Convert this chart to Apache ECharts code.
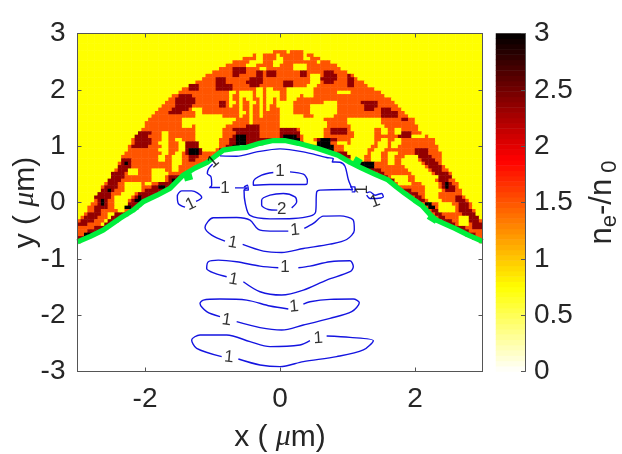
<!DOCTYPE html>
<html>
<head>
<meta charset="utf-8">
<style>html,body{margin:0;background:#fff}#main-chart{width:622px;height:454px}</style>
<script src="https://cdn.jsdelivr.net/npm/echarts@6/dist/echarts.min.js"></script>
</head>
<body>
<div id="main-chart"></div>
<script>
// density map: 120 columns (dx = 0.05 um), rows from y = 3 downwards (dy = 0.06 um)
const colCount = 120;
const rowCount = 100;
const firstRow = 5; // rows above this are all background
const cellValues = { y: 0.75, o: 1.5, d: 2.35, k: 3 };

// plasma band edges per row, in columns
const bandLeft = [58,52,49,46,44,42,40,38,37,35,33,31,30,28,27,26,25,24,23,22,21,20,20,19,18,17,16,16,15,15,14,13,13,12,12,11,10,10,9,8,7,7,6,5,5,4,3,3,2,1,0,0,0,0,0,0,0];
const bandRight = [66,69,71,74,76,77,79,81,82,84,85,87,89,90,92,93,94,95,96,97,99,99,100,100,101,103,105,105,106,106,107,107,107,107,108,109,110,110,111,112,112,113,113,114,115,116,116,117,117,118,119,120,120,120,120,120,120];
// empty region under the surface, from row 32 on
const holeFirstRow = 32;
const holeLeft = [55,48,43,42,40,39,37,35,33,32,31,30,29,28,26,24,22,20,19,18,16,15,13,12,10,9,7,5,3,1];
const holeRight = [65,69,73,76,78,80,82,84,86,88,90,92,94,95,96,98,99,100,102,103,104,105,106,108,110,112,114,115,117,119];
// patches inside the band, one string per row: level + column range
const fieldPatches = [
  'y62-62',
  'y53-54 y59-59 y67-67',
  'y53-54 y59-60 y67-68',
  'y51-54 y58-60 y71-71',
  'y50-52 y58-59 y64-67',
  'd46-47 d48-49 y54-55 y64-67',
  'd46-47 d48-49 d53-54 d56-58 d66-67 d73-75',
  'd46-47 d53-54 d56-58 d66-67 y69-71 d73-76 d80-80',
  'd41-43 d51-54 y69-71 d72-76 d80-81',
  'd41-43 d50-54 d61-63 y69-71 d73-75 d80-81',
  'd33-35 d41-44 d45-45 d51-53 d61-63 y68-70 d80-81',
  'd33-35 d41-43 d44-45 y53-54 y56-57 y62-65 y66-69',
  'y45-46 y48-49 y50-51 y53-54 y56-57 y58-59 y62-66 y67-69 y77-80',
  'd30-33 y45-45 y48-49 y50-51 y53-54 y56-57 y58-59 y62-65 y67-69',
  'd29-34 y45-45 y48-48 y50-51 y54-54 y56-57 y59-59 y62-64',
  'd29-34 d42-43 y45-46 y48-48 y51-52 y54-54 y56-57 y59-59 y60-63 y73-76 d84-88',
  'd29-33 d42-43 y45-45 y48-48 y51-51 y54-54 y56-56 y59-63 y69-76 d85-88',
  'd28-32 y34-36 y48-48 y51-51 y54-54 y56-56 y60-63 y69-76 d85-87 d90-92',
  'd27-30 y35-36 y48-49 y51-51 y54-54 y60-63 y69-76 d90-94',
  'y35-42 y48-48 y51-51 y54-54 y60-66 y70-75 d90-94',
  'y31-34 y35-46 y51-51 y60-72 y80-89 d96-97',
  'y31-34 y35-45 y51-51 y60-65 y66-73 y80-89',
  'y31-33 y35-43 d50-53 y60-65 y66-73 y81-90',
  'y35-42 d46-53 d60-64 y66-72 d75-79 y81-87 y90-91 y94-95',
  'd17-21 y25-26 y35-42 d47-53 d60-65 y66-72 d75-79 y82-87 y90-91 y94-95 d96-98',
  'd17-20 y25-26 y35-42 d46-53 k47-49 d60-65 k61-64 y67-72 y82-87 d95-98 y99-102',
  'd17-21 y25-26 y29-30 y35-41 d45-52 k47-49 d53-59 d60-65 k61-65 y67-69 d71-76 k72-74 y81-87 y90-91 y94-95',
  'd17-21 y24-26 y30-31 d32-35 y36-41 d45-50 k47-49 d50-55 d66-67 y67-70 k71-74 y77-79 y81-87 y89-91 y93-95',
  'd16-20 y25-26 y30-31 d32-35 y36-41 d44-48 k46-47 k71-75 y79-86 y89-91 y93-94',
  'y24-26 y30-31 d32-36 k33-35 y37-40 d42-43 k73-75 y79-85 y88-90 d100-103',
  'y25-26 y29-30 d32-36 k33-35 d77-79 y80-85 y87-89 y92-94 d100-103',
  'y24-25 y28-30 d33-35 d78-80 y81-84 y87-89 y92-93 y97-100 d101-104',
  'd12-15 y24-25 y28-30 d33-34 y81-84 y87-89 y92-93 y96-100 d102-105',
  'd13-15 k14-14 y28-30 k83-87 y92-93 y96-101 d103-106',
  'd12-15 y28-29 k84-87 y97-102 d104-107',
  'd12-15 y15-17 y22-25 y28-29 d86-89 y98-103 d105-107',
  'd10-13 y15-17 y22-26 d89-90 y99-104 d106-109',
  'd10-13 y22-25 d27-30 d91-91 y93-97 y100-106 d107-110',
  'd9-12 y22-25 d27-29 k28-28 d92-94 y94-97 y100-105 d107-109',
  'd9-11 y14-18 y20-21 d24-28 y95-98 y102-106 d108-110 k109-109',
  'd8-11 y14-18 d22-27 k24-25 y103-106 d108-111 k109-109',
  'd7-10 k9-9 y14-18 d20-25 d96-98 y103-107 d109-111',
  'd6-9 y13-16 d18-23 d98-100 y103-106',
  'd5-9 y11-15 d17-21 k18-18 d100-101 y103-106 d112-113',
  'd6-8 k7-7 y11-14 d16-19 k17-18 d101-102 y104-107 d112-114',
  'd6-8 k7-7 y11-14 d15-18 k103-104 y107-110 d113-115',
  'd5-8 y11-13 d14-17 k14-15 k104-105 y107-111 d113-115',
  'd5-6 y12-13 d105-106 y107-111 d113-116',
  'd3-6 y9-11 d11-14 d106-107 d114-117',
  'd2-5 y9-10 d10-12 d107-108 y113-115 d116-118',
  'd1-4 y8-9 d9-11 d108-110 y113-115 d116-118',
  'd0-2 y7-8 d8-9 d110-111 y113-115 d117-119',
  'd5-8 d112-114 d117-119',
  'd3-6 d114-115',
  'k2-4 d115-117',
  'd0-2',
  ''
];

// green surface contour, in um
const surfaceLine = [[-3,-0.7],[-2.81,-0.6],[-2.62,-0.49],[-2.37,-0.28],[-2.18,-0.14],[-2.03,0.01],[-1.82,0.13],[-1.63,0.25],[-1.44,0.48],[-1.26,0.61],[-1.08,0.71],[-0.96,0.82],[-0.84,0.93],[-0.67,0.96],[-0.49,0.98],[-0.3,1.05],[-0.1,1.1],[0.07,1.1],[0.27,1.05],[0.56,0.96],[0.86,0.84],[1.04,0.71],[1.21,0.61],[1.41,0.5],[1.6,0.4],[1.73,0.27],[1.85,0.16],[1.99,0.04],[2.1,-0.05],[2.22,-0.21],[2.31,-0.31],[2.44,-0.38],[2.59,-0.46],[2.79,-0.58],[3,-0.69]];
const surfaceBlobs = [
  [[1.1,0.77],[1.2,0.7]],
  [[2.2,-0.24],[2.32,-0.33]],
  [[-1.42,0.43],[-1.3,0.47]]
];

// blue contour pieces, in um
const contourLines = [
  [[-0.889,0.266],[-1.047,0.266],[-1.012,0.307],[-1.022,0.455],[-1.077,0.514],[-1.057,0.603],[-0.998,0.68]],
  [[-0.889,0.827],[-0.642,0.821],[-0.346,0.898],[0,0.952],[0.346,0.898],[0.691,0.798],[0.79,0.78],[0.775,0.721],[0.889,0.715],[0.963,0.644],[1.012,0.408],[1.077,0.219],[1.037,0.23],[0.593,0.219],[0.543,0.183],[0.528,-0.165],[0.444,-0.242],[0.198,-0.284],[-0.148,-0.29],[-0.444,-0.23],[-0.514,-0.018],[-0.533,0.219],[-0.479,0.26],[-0.667,0.26]],
  [[1.284,0.171],[1.333,0.189],[1.407,0.13],[1.506,0.16],[1.531,0.1],[1.432,0.071],[1.333,0.071],[1.284,0.13]],
  [[-0.533,0.278],[-0.484,0.307],[-0.469,0.219],[-0.533,0.219]],
  [[1.037,0.278],[1.111,0.278],[1.111,0.189],[1.062,0.189]],
  [[-1.244,0.018],[-1.16,0.089],[-1.225,0.171],[-1.309,0.207],[-1.457,0.207],[-1.521,0.112],[-1.506,-0.018],[-1.407,-0.083]],
  [[0.148,0.544],[0.346,0.502],[0.405,0.396],[0.395,0.325],[0.198,0.319],[-0.148,0.319],[-0.395,0.307],[-0.395,0.366],[-0.272,0.485],[-0.099,0.532]],
  [[0.173,-0.095],[0.247,0.012],[0.222,0.1],[0.049,0.16],[-0.148,0.13],[-0.272,0.041],[-0.272,-0.047],[-0.173,-0.124],[-0.04,-0.136]],
  [[0.123,-0.508],[-0.148,-0.508],[-0.321,-0.479],[-0.444,-0.313],[-0.642,-0.266],[-0.988,-0.272],[-1.111,-0.443],[-1.012,-0.579],[-0.815,-0.686]],
  [[-0.553,-0.745],[-0.247,-0.864],[0.025,-0.888],[0.346,-0.816],[0.741,-0.74],[0.988,-0.657],[1.101,-0.491],[1.086,-0.313],[0.889,-0.237],[0.642,-0.242],[0.494,-0.372],[0.36,-0.461]],
  [[-0.025,-1.159],[-0.296,-1.129],[-0.642,-1.052],[-0.914,-1.023],[-1.062,-1.052],[-1.086,-1.171],[-0.963,-1.259],[-0.79,-1.318]],
  [[-0.543,-1.407],[-0.296,-1.584],[0.025,-1.643],[0.346,-1.555],[0.691,-1.377],[1.037,-1.229],[1.086,-1.141],[1.037,-1.034],[0.741,-1.052],[0.444,-1.129],[0.272,-1.159]],
  [[0.123,-1.891],[-0.148,-1.838],[-0.494,-1.732],[-0.889,-1.714],[-1.136,-1.732],[-1.185,-1.791],[-1.086,-1.938],[-0.889,-2.027]],
  [[-0.642,-2.116],[-0.296,-2.222],[0.025,-2.264],[0.346,-2.175],[0.741,-2.057],[1.062,-1.938],[1.175,-1.779],[1.086,-1.714],[0.741,-1.72],[0.444,-1.761],[0.346,-1.803]],
  [[0.444,-2.453],[0.296,-2.529],[-0.148,-2.559],[-0.444,-2.47],[-0.79,-2.352],[-1.185,-2.352],[-1.309,-2.441],[-1.235,-2.589],[-0.864,-2.736]],
  [[-0.617,-2.778],[-0.296,-2.884],[0,-2.914],[0.346,-2.825],[0.84,-2.736],[1.235,-2.618],[1.383,-2.453],[1.037,-2.394],[0.691,-2.37]]
];
// contour labels: x, y, text, rotation
const contourLabels = [
  [-0.815,0.26,'1',0],[-1.323,-0.03,'1',25],[-0.988,0.721,'1',40],[0,0.556,'1',0],[0.025,-0.118,'2',0],
  [-0.701,-0.715,'1',-10],[0.222,-0.491,'1',5],[0.074,-1.159,'1',0],[-0.691,-1.365,'1',-10],[0.207,-1.851,'1',5],
  [-0.79,-2.086,'1',-8],[0.568,-2.411,'1',3],[-0.756,-2.748,'1',-5],[1.407,0.012,'1',20],[1.225,0.23,'1',90]
];

const xTicks = [-2, 0, 2];
const hotStops = ['#ffffff','#ffff80','#ffff00','#ffaa00','#ff5500','#ff0000','#aa0000','#550000','#000000'];
const barLevels = 64;

// expand rows into heatmap cells
const fieldData = [];
for (let r = 0; r < firstRow; r++) {
  for (let c = 0; c < colCount; c++) fieldData.push([c, r, cellValues.y]);
}
fieldPatches.forEach((patch, i) => {
  const r = firstRow + i;
  const row = new Array(colCount).fill(cellValues.y);
  for (let c = bandLeft[i]; c <= Math.min(bandRight[i], colCount - 1); c++) row[c] = cellValues.o;
  patch.split(' ').filter(Boolean).forEach(p => {
    const [a, b] = p.slice(1).split('-').map(Number);
    for (let c = a; c <= b; c++) {
      if (c >= bandLeft[i] && c <= bandRight[i]) row[c] = cellValues[p[0]];
    }
  });
  if (r >= holeFirstRow) {
    for (let c = holeLeft[r - holeFirstRow]; c < holeRight[r - holeFirstRow]; c++) row[c] = null;
  }
  row.forEach((v, c) => { if (v !== null) fieldData.push([c, r, v]); });
});

const colNames = Array.from({ length: colCount }, (_, i) => i);
const rowNames = Array.from({ length: rowCount }, (_, i) => i);
const barNames = Array.from({ length: barLevels }, (_, i) => i);
const barData = barNames.map(i => [0, i, (i + 0.5) * 3 / barLevels]);

const ink = '#262626';
const frame = { show: true, onZero: false, lineStyle: { color: '#555555', width: 1 } };
const tickFont = { color: ink, fontSize: 28, fontFamily: 'Liberation Sans' };
const nameFont = { color: ink, fontSize: 30, fontFamily: 'Liberation Sans' };
const noSplit = { show: false };
const innerTick = { show: true, inside: true, length: 4, lineStyle: { color: '#555555' } };
const nameRich = {
  mu: { fontStyle: 'italic', fontSize: 30, fontFamily: 'Liberation Serif', color: ink },
  n: { fontSize: 31, color: ink, fontFamily: 'Liberation Sans' },
  sub: { fontSize: 22, color: ink, fontFamily: 'Liberation Sans', padding: [15, 0, 0, 0] }
};

const myChart = echarts.init(document.getElementById('main-chart'));

const option = {
  animation: false,
  backgroundColor: '#ffffff',
  grid: [
    { left: 77.5, top: 33.5, width: 405, height: 338, outerBoundsMode: 'none' },
    { left: 496, top: 33.5, width: 29, height: 338, outerBoundsMode: 'none' }
  ],
  visualMap: {
    show: false,
    min: 0,
    max: 3,
    seriesIndex: [0, 1],
    inRange: { color: hotStops }
  },
  xAxis: [
    {
      type: 'value', gridIndex: 0, min: -3, max: 3, position: 'bottom', z: 5,
      axisLine: frame, splitLine: noSplit,
      axisTick: { ...innerTick, customValues: xTicks },
      axisLabel: { ...tickFont, margin: 14, customValues: xTicks },
      name: 'x ( {mu|μ}m)', nameLocation: 'middle', nameGap: 51, nameMoveOverlap: false,
      nameTextStyle: { ...nameFont, rich: nameRich }
    },
    {
      type: 'value', gridIndex: 0, min: -3, max: 3, position: 'top', z: 5,
      axisLine: frame, splitLine: noSplit,
      axisTick: { ...innerTick, customValues: xTicks },
      axisLabel: { show: false }
    },
    { type: 'category', gridIndex: 0, data: colNames, show: false },
    { type: 'category', gridIndex: 1, data: ['c'], show: false }
  ],
  yAxis: [
    {
      type: 'value', gridIndex: 0, min: -3, max: 3, interval: 1, position: 'left', z: 5,
      axisLine: frame, splitLine: noSplit, axisTick: innerTick,
      axisLabel: { ...tickFont, margin: 12 },
      name: 'y ( {mu|μ}m)', nameLocation: 'middle', nameGap: 37, nameMoveOverlap: false,
      nameTextStyle: { ...nameFont, rich: nameRich }
    },
    {
      type: 'value', gridIndex: 0, min: -3, max: 3, interval: 1, position: 'right', z: 5,
      axisLine: frame, splitLine: noSplit, axisTick: innerTick, axisLabel: { show: false }
    },
    { type: 'category', gridIndex: 0, data: rowNames, inverse: true, show: false },
    { type: 'category', gridIndex: 1, data: barNames, show: false },
    {
      type: 'value', gridIndex: 1, min: 0, max: 3, interval: 0.5, position: 'right', z: 5,
      axisLine: frame, splitLine: noSplit, axisTick: innerTick,
      axisLabel: { ...tickFont, margin: 9 },
      name: '{n|n}{sub|e}{n|-/n}{sub| 0}', nameLocation: 'middle', nameGap: 59, nameMoveOverlap: false,
      nameTextStyle: { ...nameFont, rich: nameRich }
    }
  ],
  series: [
    {
      type: 'heatmap', xAxisIndex: 2, yAxisIndex: 2, data: fieldData, progressive: 0,
      itemStyle: { borderWidth: 0 }, emphasis: { disabled: true }, z: 1
    },
    {
      type: 'heatmap', xAxisIndex: 3, yAxisIndex: 3, data: barData, progressive: 0,
      itemStyle: { borderWidth: 0 }, emphasis: { disabled: true }, z: 1
    },
    {
      type: 'line', xAxisIndex: 0, yAxisIndex: 0, data: surfaceLine, showSymbol: false, clip: false,
      lineStyle: { color: '#00ee3c', width: 5.2 }, z: 2
    },
    ...surfaceBlobs.map(blob => ({
      type: 'line', xAxisIndex: 0, yAxisIndex: 0, data: blob, showSymbol: false,
      lineStyle: { color: '#00ee3c', width: 6.5 }, z: 2
    })),
    ...contourLines.map(piece => ({
      type: 'line', xAxisIndex: 0, yAxisIndex: 0, data: piece, showSymbol: false, smooth: 0.3,
      lineStyle: { color: '#1414e0', width: 1.4 }, z: 3
    })),
    {
      type: 'scatter', xAxisIndex: 0, yAxisIndex: 0, symbolSize: 0, z: 4,
      data: contourLabels.map(l => ({
        name: l[2], value: [l[0], l[1]],
        label: { rotate: l[3] }
      })),
      label: {
        show: true, position: 'inside', formatter: '{b}',
        color: '#000000', fontSize: 17, fontFamily: 'Liberation Sans'
      }
    }
  ]
};

myChart.setOption(option);
</script>
</body>
</html>
